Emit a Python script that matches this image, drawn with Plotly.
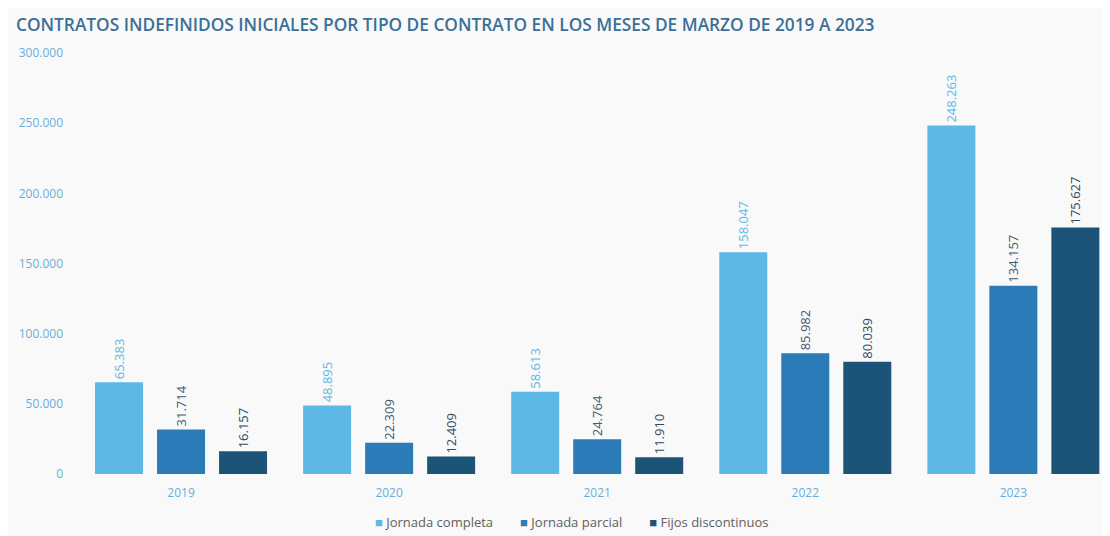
import plotly.graph_objects as go

years = ["2019", "2020", "2021", "2022", "2023"]
series_names = ["Jornada completa", "Jornada parcial", "Fijos discontinuos"]
jornada_completa = [65383, 48895, 58613, 158047, 248263]
jornada_parcial = [31714, 22309, 24764, 85982, 134157]
fijos_discontinuos = [16157, 12409, 11910, 80039, 175627]
y_ticks = [0, 50000, 100000, 150000, 200000, 250000, 300000]
y_tick_labels = ["0", "50.000", "100.000", "150.000", "200.000", "250.000", "300.000"]

bar_colors = ["#5db8e8", "#2b7bb9", "#1b5478"]
label_colors = ["#5db8e8", "#3f5a70", "#2f4a60"]
series_values = [jornada_completa, jornada_parcial, fijos_discontinuos]

def fmt(v):
    return f"{v:,}".replace(",", ".")

fig = go.Figure()
for name, vals, c, lc in zip(series_names, series_values, bar_colors, label_colors):
    fig.add_trace(go.Bar(
        x=years, y=vals, name=name,
        marker=dict(color=c, line=dict(width=0)),
        text=[fmt(v) for v in vals],
        textposition="outside",
        textangle=-90,
        cliponaxis=False,
        showlegend=False,
        textfont=dict(family="Open Sans", size=13, color=lc),
    ))

legend_text = "&nbsp;&nbsp;&nbsp;&nbsp;&nbsp;&nbsp;&nbsp;&nbsp;".join(
    f"<span style='color:{c}'>■</span> {n}" for n, c in zip(series_names, bar_colors)
)

L, T, PW, PH = 69, 45, 1030, 421

fig.update_layout(
    width=1110, height=536,
    paper_bgcolor="#f9f9f9",
    plot_bgcolor="rgba(0,0,0,0)",
    margin=dict(l=L, r=1110 - L - PW, t=T, b=536 - T - PH, autoexpand=False),
    barmode="group",
    bargap=0.106,
    bargroupgap=0.226,
    uniformtext=dict(minsize=8, mode="show"),
    font=dict(family="Open Sans", color="#6aaed8"),
    showlegend=False,
    title=dict(
        text="CONTRATOS INDEFINIDOS INICIALES POR TIPO DE CONTRATO EN LOS MESES DE MARZO DE 2019 A 2023",
        x=8/1110, xanchor="left", y=1 - 16.5/536, yanchor="middle",
        font=dict(family="Open Sans", size=17.3, color="#3b6f98", weight=600),
    ),
    xaxis=dict(
        type="category", range=[-0.5, 4.45], automargin=False,
        showgrid=False, zeroline=False, showline=False, ticks="",
        tickfont=dict(family="Open Sans", size=12, color="#6aaed8"),
        ticklabelstandoff=10,
    ),
    yaxis=dict(
        range=[0, 300000], tickvals=y_ticks, ticktext=y_tick_labels, automargin=False,
        showgrid=False, zeroline=False, showline=False, ticks="",
        tickfont=dict(family="Open Sans", size=12, color="#6aaed8"),
        ticklabelstandoff=13,
    ),
    annotations=[dict(
        text=legend_text, xref="paper", yref="paper",
        x=(563 - L) / PW, y=-48 / PH, xanchor="center", yanchor="middle",
        showarrow=False, font=dict(family="Open Sans", size=13, color="#606060"),
    )],
)

fig.write_html("out.html")
